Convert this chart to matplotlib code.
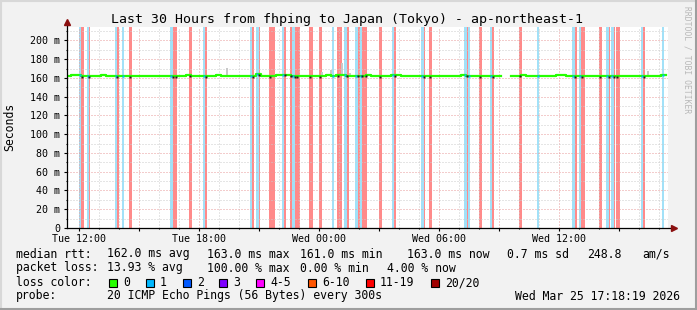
import matplotlib
matplotlib.use("Agg")
import matplotlib.pyplot as plt
import numpy as np
from matplotlib.patches import Rectangle
from matplotlib.lines import Line2D
from matplotlib.ticker import MultipleLocator, FuncFormatter

# times are minutes after Tue 00:00
median_start = 680
median_step = 15
median_rtt = [
    162.3, 163.5, 163.0, 162.0, 161.8, 162.0, 162.3, 163.3, 162.0, 161.8,
    162.0, 162.3, 162.0, 162.0, 162.3, 162.5, 162.5, 162.3, 162.0, 161.8,
    162.0, 161.8, 162.0, 162.5, 163.0, 162.3, 162.0, 162.0, 162.3, 162.5,
    163.0, 162.5, 162.3, 162.3, 162.0, 162.3, 162.0, 162.0, 163.8, 162.5,
    162.3, 162.3, 163.5, 163.5, 163.0, 162.0, 161.8, 162.0, 162.3, 162.0,
    161.8, 162.3, 163.0, 162.5, 163.0, 163.5, 162.5, 162.3, 162.5, 162.5,
    163.0, 162.3, 162.3, 162.0, 162.5, 163.0, 163.3, 162.3, 162.0, 162.0,
    162.3, 162.3, 162.0, 161.8, 162.0, 162.3, 162.0, 162.3, 162.5, 163.5,
    162.5, 162.0, 162.3, 162.3, 162.3, 162.3, 162.0, np.nan, np.nan, 162.0,
    162.5, 163.5, 162.5, 162.3, 162.3, 162.5, 162.5, 162.3, 162.8, 163.3,
    162.5, 162.0, 162.0, 162.3, 162.3, 162.5, 162.3, 161.8, 162.0, 162.3,
    162.3, 162.3, 162.3, 162.5, 162.3, 162.3, 162.5, 162.5, 162.5, 162.8,
]

# loss periods (start, end) in minutes: 1/20 lost (blue) and 11-19 lost (red)
loss_1 = [
    (719, 725), (743, 749), (828, 833), (848, 854), (992, 1000), (1092, 1097),
    (1232, 1238), (1252, 1258), (1328, 1334), (1359, 1365), (1478, 1484),
    (1516, 1521), (1547, 1554), (1562, 1567), (1658, 1664), (1747, 1753),
    (1876, 1882), (1886, 1890), (1952, 1958), (2093, 2099), (2199, 2205),
    (2219, 2225), (2302, 2308), (2315, 2322), (2407, 2411), (2468, 2474),
]
loss_11 = [
    (725, 734), (748, 752), (832, 839), (871, 878), (1000, 1006), (1007, 1013),
    (1050, 1058), (1097, 1103), (1238, 1244), (1258, 1262), (1290, 1307),
    (1334, 1340), (1352, 1359), (1365, 1372), (1372, 1382), (1410, 1419),
    (1440, 1448), (1493, 1508), (1522, 1529), (1554, 1562), (1567, 1575),
    (1577, 1583), (1620, 1627), (1664, 1668), (1753, 1757), (1770, 1777),
    (1882, 1888), (1920, 1927), (1958, 1964), (2040, 2047), (2205, 2213),
    (2226, 2236), (2280, 2288), (2308, 2312), (2322, 2326), (2332, 2340),
    (2411, 2416),
]
# smoke spikes (minute, highest rtt ms)
smoke_time = [1163, 1448, 1475, 1508, 1532, 2425]
smoke_top = [171, 166, 168, 176, 165, 167]

legend_classes = ["0", "1", "2", "3", "4-5", "6-10", "11-19", "20/20"]
legend_colors = ["#26ff00", "#00b8ff", "#0059ff", "#7e00ff", "#ff00ff",
                 "#ff5500", "#ff0000", "#a00000"]

W, H = 697, 310
MONO = "DejaVu Sans Mono"


def fx(px):
    return px / W


def fy(py):
    return 1 - py / H


fig = plt.figure(figsize=(W / 100, H / 100), dpi=100, facecolor="#f2f2f2")
ax = fig.add_axes([fx(67), fy(228), 601 / W, 201 / H])
ax.set_facecolor("white")

# bands get a little extra each side so they fill whole pixels like rrdtool
for s, e in loss_11:
    ax.axvspan((s - 1) / 60, (e + 1) / 60, color="#ff8a8a", lw=0, zorder=1,
               antialiased=False)
for s, e in loss_1:
    ax.axvspan((s - 1) / 60, (e + 1) / 60, color="#a2e1f8", lw=0, zorder=1.1,
               antialiased=False)

smoke_t = np.array(smoke_time) / 60
ax.bar(smoke_t, np.array(smoke_top) - 162, bottom=162, width=0.11,
       color="#c8c8c8", lw=0, zorder=1.8)

med = np.array(median_rtt)
edges = (median_start + median_step * np.arange(len(med) + 1)) / 60
ax.plot(edges, np.append(med, med[-1]), drawstyle="steps-post",
        color="#26ff00", lw=1.6, zorder=2)

# loss colour marks on the median
for lst, c, dy in [(loss_1, "#00b8ff", 0.0), (loss_11, "#202020", -0.9)]:
    t = np.array([s for s, e in lst])
    idx = np.clip((t - median_start) // median_step, 0, len(med) - 1)
    ax.plot(t / 60 + 0.03, med[idx] + dy, ls="none", marker="s", ms=1.6,
            mec="none", mfc=c, zorder=3)

ax.set_xlim(11.385, 41.435)
ax.set_ylim(0, 214.3)

ax.yaxis.set_major_locator(MultipleLocator(20))
ax.yaxis.set_minor_locator(MultipleLocator(10))
ax.yaxis.set_major_formatter(FuncFormatter(lambda v, p: "0" if v == 0 else f"{int(v)} m"))
ax.xaxis.set_major_locator(MultipleLocator(3))
ax.xaxis.set_minor_locator(MultipleLocator(1))
days = ["Tue", "Wed"]


def xfmt(v, p):
    h = int(round(v))
    if h % 6:
        return ""
    return f"{days[h // 24]} {h % 24:02d}:00"


ax.xaxis.set_major_formatter(FuncFormatter(xfmt))
ax.set_axisbelow("line")
ax.grid(which="major", color="#e89a9a", ls=(0, (1, 2)), lw=0.72)
ax.grid(which="minor", color="#cccccc", ls=(0, (1, 2)), lw=0.72)
ax.tick_params(which="both", direction="out", color="#000000", width=0.8,
               labelsize=7.2, labelfontfamily=MONO)
ax.tick_params(which="major", length=2)
ax.tick_params(which="minor", length=1)
ax.tick_params(axis="y", pad=2.9)
ax.tick_params(axis="x", pad=2.2)
for sp in ax.spines.values():
    sp.set_visible(False)

# axes with arrow heads
ax.plot([0, 0], [0, 1.02], transform=ax.transAxes, color="black", lw=0.9,
        clip_on=False, zorder=4)
ax.plot([0, 1.008], [0, 0], transform=ax.transAxes, color="black", lw=0.9,
        clip_on=False, zorder=4)
ax.plot([0], [1.025], transform=ax.transAxes, marker="^", ms=4.5,
        color="#8b1010", clip_on=False, zorder=5)
ax.plot([1.01], [0], transform=ax.transAxes, marker=">", ms=4.5,
        color="#8b1010", clip_on=False, zorder=5)

fig.text(fx(347), fy(19), "Last 30 Hours from fhping to Japan (Tokyo) - ap-northeast-1",
         ha="center", va="center", family=MONO, fontsize=9.5)
fig.text(fx(10), fy(127), "Seconds", rotation=90, ha="center", va="center",
         family=MONO, fontsize=8.3)
fig.text(fx(687), fy(60), "RRDTOOL / TOBI OETIKER", rotation=270, ha="center",
         va="center", family=MONO, fontsize=5.8, color="#b8b8b8")

fs = 8.3
rows = [
    (254, [(16, "median rtt:"), (107, "162.0 ms avg"), (207, "163.0 ms max"),
           (300, "161.0 ms min"), (407, "163.0 ms now"), (507, "0.7 ms sd"),
           (587, "248.8"), (642, "am/s")]),
    (268, [(16, "packet loss:"), (107, "13.93 % avg"), (207, "100.00 % max"),
           (300, "0.00 % min"), (387, "4.00 % now")]),
    (283, [(16, "loss color:")]),
    (296, [(16, "probe:"), (107, "20 ICMP Echo Pings (56 Bytes) every 300s")]),
]
for y, items in rows:
    for x, s in items:
        fig.text(fx(x), fy(y), s, ha="left", va="center", family=MONO, fontsize=fs)
fig.text(fx(680), fy(296), "Wed Mar 25 17:18:19 2026", ha="right", va="center",
         family=MONO, fontsize=fs)

box_x = [109, 146, 183, 219, 256, 308, 366, 431]
for bx, lab, col in zip(box_x, legend_classes, legend_colors):
    fig.patches.append(Rectangle((fx(bx), fy(287)), 8 / W, 8 / H, transform=fig.transFigure,
                                 facecolor=col, edgecolor="black", lw=0.8))
    fig.text(fx(bx + 14), fy(283), lab, ha="left", va="center", family=MONO, fontsize=fs)

# frame shading
fig.lines.append(Line2D([0, 1], [fy(0.5)] * 2, transform=fig.transFigure, color="#d8d8d8", lw=1.5))
fig.lines.append(Line2D([fx(0.5)] * 2, [0, 1], transform=fig.transFigure, color="#d8d8d8", lw=1.5))
fig.lines.append(Line2D([0, 1], [fy(309)] * 2, transform=fig.transFigure, color="#9e9e9e", lw=1.5))
fig.lines.append(Line2D([fx(696)] * 2, [0, 1], transform=fig.transFigure, color="#9e9e9e", lw=1.5))

fig.savefig("out.png", dpi=100, facecolor=fig.get_facecolor())
